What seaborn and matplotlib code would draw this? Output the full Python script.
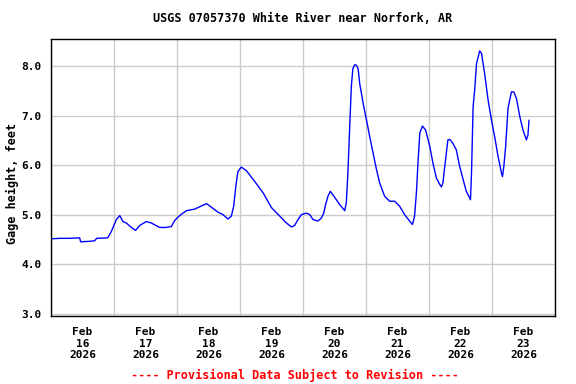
import matplotlib
matplotlib.use("Agg")
import matplotlib.pyplot as plt
import seaborn as sns
import pandas as pd

# hours after Feb 16 2026 00:00, gage height in feet
hours = [0, 3.3, 7.1, 10.9, 11.3, 14.7, 16.6, 17.4, 21.6, 23.0, 24.9, 26.2, 27.4,
         28.7, 30.4, 32.2, 33.8, 36.3, 38.2, 41.4, 43.7, 45.9, 47.1, 49.0, 51.6,
         54.7, 57.9, 59.3, 61.1, 63.6, 65.5, 67.4, 68.7, 69.6, 70.4, 71.2, 72.5,
         74.4, 77.6, 80.8, 84.0, 87.1, 89.7, 91.6, 92.8, 94.1, 95.4, 97.3, 98.6,
         99.8, 101.7, 103.0, 103.9, 104.6, 105.5, 106.4, 107.4, 108.7, 110.0,
         111.9, 112.5, 113.1, 113.8, 114.4, 115.0, 115.7, 116.3, 117.0, 117.6,
         118.9, 120.2, 121.4, 122.7, 124.0, 125.2, 127.1, 129.0, 130.9, 132.8,
         134.7, 136.6, 137.7, 138.5, 139.2, 139.8, 140.5, 141.5, 142.7, 144.3,
         145.5, 146.8, 148.1, 148.7, 149.3, 150.0, 151.2, 151.9, 153.1, 154.4,
         155.7, 157.0, 158.2, 159.2, 159.8, 160.2, 160.8, 161.4, 162.1, 163.3,
         164.0, 165.2, 166.5, 167.8, 169.0, 170.3, 171.6, 172.0, 172.5, 173.2,
         174.1, 175.4, 176.3, 177.3, 178.6, 179.8, 181.1, 181.7, 182.1]
gage = [4.51, 4.52, 4.52, 4.53, 4.45, 4.46, 4.47, 4.52, 4.53, 4.66, 4.90, 4.98, 4.86,
        4.83, 4.75, 4.68, 4.78, 4.86, 4.83, 4.74, 4.74, 4.76, 4.88, 4.98, 5.08,
        5.11, 5.19, 5.22, 5.15, 5.05, 5.00, 4.91, 4.97, 5.17, 5.57, 5.87, 5.96,
        5.89, 5.67, 5.44, 5.14, 4.97, 4.83, 4.75, 4.78, 4.90, 5.00, 5.03, 5.00,
        4.90, 4.87, 4.93, 5.03, 5.20, 5.37, 5.47, 5.40, 5.30, 5.20,
        5.08, 5.24, 5.84, 6.78, 7.58, 7.95, 8.03, 8.02, 7.95, 7.65,
        7.25, 6.91, 6.58, 6.24, 5.91, 5.64, 5.37, 5.27, 5.27, 5.17,
        5.00, 4.87, 4.80, 4.97, 5.44, 6.04, 6.65, 6.79, 6.71, 6.38,
        6.04, 5.74, 5.61, 5.56, 5.64, 5.97, 6.51, 6.52, 6.44, 6.31,
        5.97, 5.71, 5.47, 5.37, 5.30, 5.84, 7.18, 7.52, 8.05, 8.31,
        8.26, 7.85, 7.32, 6.91, 6.58, 6.18, 5.84, 5.77, 5.97, 6.38,
        7.15, 7.48, 7.48, 7.35, 6.98, 6.71, 6.51, 6.61, 6.91]
day_labels = ["16", "17", "18", "19", "20", "21", "22", "23"]
y_ticks = [3.0, 4.0, 5.0, 6.0, 7.0, 8.0]

start = pd.Timestamp("2026-02-16")
df = pd.DataFrame({"time": start + pd.to_timedelta(hours, unit="h"), "gage": gage})

sns.set_style("white")
plt.rcParams["font.family"] = ["DejaVu Sans Mono"]
plt.rcParams["font.weight"] = "bold"
plt.rcParams["text.color"] = "black"
plt.rcParams["xtick.color"] = "black"
plt.rcParams["ytick.color"] = "black"

fig = plt.figure(figsize=(5.76, 3.84), dpi=100)
ax = fig.add_axes([51 / 576, 1 - 316 / 384, 504 / 576, 277 / 384])

sns.lineplot(data=df, x="time", y="gage", color="#0000ff", linewidth=1.0, ax=ax)

midnights = [start + pd.Timedelta(days=i) for i in range(9)]
noons = [start + pd.Timedelta(days=i, hours=12) for i in range(8)]
ax.set_xlim(midnights[0], midnights[-1])
ax.set_xticks(midnights)
ax.set_xticklabels([])
ax.set_xticks(noons, minor=True)
ax.set_xticklabels([f"Feb\n{d}\n2026" for d in day_labels], minor=True)
ax.set_ylim(2.95, 8.55)
ax.set_yticks(y_ticks)
ax.set_yticklabels([f"{v:.1f}" for v in y_ticks])

ax.tick_params(axis="both", which="both", length=0, labelsize=8, pad=7,
               labelcolor="black")
ax.tick_params(axis="x", which="minor", pad=8)
for lab in ax.get_xticklabels(minor=True) + ax.get_yticklabels():
    lab.set_fontweight("bold")

ax.grid(True, which="major", color="#cccccc", linewidth=1.0)
ax.set_axisbelow(True)
for s in ax.spines.values():
    s.set_color("black")
    s.set_linewidth(1.0)

ax.set_xlabel("")
ax.set_ylabel("")
fig.text(12 / 576, 1 - 183 / 384, "Gage height, feet", rotation=90,
         ha="center", va="center", fontsize=8.5, fontweight="bold")

fig.text(303 / 576, 1 - 19 / 384, "USGS 07057370 White River near Norfork, AR",
         ha="center", va="center", fontsize=8.5, fontweight="bold")
fig.text(295 / 576, 1 - 375 / 384, "---- Provisional Data Subject to Revision ----",
         ha="center", va="center", fontsize=8.5, fontweight="bold", color="red")

fig.savefig("out.png", dpi=100, facecolor="white")
